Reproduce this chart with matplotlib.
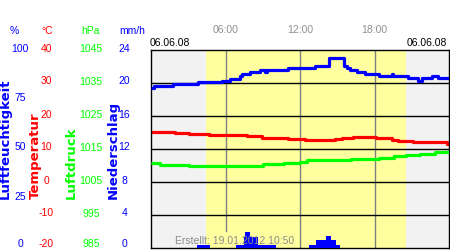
import matplotlib
matplotlib.use("Agg")
import matplotlib.pyplot as plt
from matplotlib import transforms

plt.rcParams['font.family'] = ['Liberation Sans', 'DejaVu Sans']

# Tagesdaten 06.06.08 (Stunden, Werte)
hum_t = [0.0, 0.24, 1.77, 3.78, 5.72, 6.36, 7.17, 7.33, 7.97, 8.78, 9.18, 9.34,
         11.03, 13.2, 14.33, 15.54, 15.78, 16.02, 16.6, 17.2, 18.4, 19.4, 19.5,
         20.7, 21.5, 21.8, 22.6, 23.1, 24.0]
hum_v = [80.6, 81.8, 82.8, 83.8, 84.5, 85.5, 86.7, 87.9, 88.7, 89.7, 88.7, 89.7,
         90.7, 91.9, 96.1, 91.9, 90.7, 90.1, 88.9, 87.7, 86.9, 87.7, 86.9,
         85.7, 84.5, 85.7, 86.9, 85.7, 85.7]

temp_t = [0.0, 1.9, 3.1, 4.7, 7.7, 8.9, 9.4, 11.0, 12.4, 14.8, 15.4, 16.3,
          17.1, 18.1, 19.4, 19.9, 21.1, 23.8, 24.0]
temp_v = [15.2, 14.8, 14.5, 14.2, 13.8, 13.4, 13.2, 12.9, 12.7, 13.0, 13.3, 13.7,
          13.5, 13.2, 12.8, 12.5, 12.1, 11.6, 11.6]

pres_t = [0.0, 0.7, 3.1, 4.3, 8.0, 9.0, 10.7, 12.0, 12.6, 14.7, 16.1, 17.2,
          18.4, 19.6, 20.5, 21.7, 22.9, 24.0]
pres_v = [1010.7, 1010.2, 1010.0, 1009.7, 1010.0, 1010.5, 1010.8, 1011.2, 1011.6,
          1011.8, 1011.9, 1012.1, 1012.4, 1012.8, 1013.1, 1013.5, 1014.2, 1014.2]

rain_t = [0.0, 3.7, 4.75, 6.85, 7.5, 7.6, 8.0, 8.6, 10.05, 12.7, 13.3, 14.1,
          14.5, 14.9, 15.2, 24.0]
rain_v = [0.0, 0.35, 0.0, 0.35, 1.3, 1.9, 1.3, 0.35, 0.0, 0.35, 1.0, 1.45,
          1.0, 0.35, 0.0, 0.0]

sunrise, sunset = 4.43, 20.5
hour_marks = [6, 12, 18]
hour_labels = ['06:00', '12:00', '18:00']

hum_ticks = [0, 25, 50, 75, 100]
temp_ticks = [-20, -10, 0, 10, 20, 30, 40]
pres_ticks = [985, 995, 1005, 1015, 1025, 1035, 1045]
rain_ticks = [0, 4, 8, 12, 16, 20, 24]

W, H = 450, 250
fig = plt.figure(figsize=(W / 100, H / 100), dpi=100)

# Grundachse: Temperatur-Skala mit Hintergrund und Gitter
ax = fig.add_axes([151 / W, 2 / H, 298 / W, 198 / H])
ax.set_xlim(0, 24)
ax.set_ylim(temp_ticks[0], temp_ticks[-1])
ax.set_facecolor('#f2f2f2')
ax.axvspan(sunrise, sunset, color='#ffffa0', lw=0)
ax.axvline(hour_marks[0], ymin=0.085, color='#808080', lw=1)
for h in hour_marks[1:]:
    ax.axvline(h, color='#808080', lw=1)
for t in temp_ticks[1:-1]:
    ax.axhline(t, color='black', lw=1)
ax.set_xticks([])
ax.set_yticks([])
for s in ax.spines.values():
    s.set_color('black')
    s.set_linewidth(1)

ax_p = ax.twinx()
ax_h = ax.twinx()
ax_r = ax.twinx()
for a, ticks in [(ax_p, pres_ticks), (ax_h, hum_ticks), (ax_r, rain_ticks)]:
    a.set_ylim(ticks[0], ticks[-1])
    a.set_yticks([])
    a.patch.set_visible(False)
    for s in a.spines.values():
        s.set_visible(False)

lw = 2.3
ax.plot(temp_t, temp_v, color='#ff0000', lw=lw, drawstyle='steps-post', solid_capstyle='butt')
ax_p.plot(pres_t, pres_v, color='#00ff00', lw=lw, drawstyle='steps-post', solid_capstyle='butt')
ax_h.plot(hum_t, hum_v, color='#0000ff', lw=lw, drawstyle='steps-post', solid_capstyle='butt')
ax_r.fill_between(rain_t, rain_v, step='post', color='#0000ff', lw=0)

# linke Skalen
fs = 7.5
columns = [
    (hum_ticks, ax_h, 20, '#0000ff', '%', 14),
    (temp_ticks, ax, 46.5, '#ff0000', '°C', 47),
    (pres_ticks, ax_p, 91, '#00ff00', 'hPa', 90),
    (rain_ticks, ax_r, 124.5, '#0000ff', 'mm/h', 132.5),
]
for ticks, a, xc, col, unit, ux in columns:
    tr = transforms.blended_transform_factory(fig.transFigure, a.transData)
    for i, v in enumerate(ticks):
        off = 4 if i == 0 else 1.5
        t2 = transforms.offset_copy(tr, fig=fig, y=off, units='dots')
        fig.text(xc / W, v, str(v), transform=t2, ha='center', va='center',
                 fontsize=fs, color=col)
    fig.text(ux / W, 1 - 31 / H, unit, ha='center', va='center', fontsize=fs, color=col)

names = [('Luftfeuchtigkeit', 5.5, '#0000ff'), ('Temperatur', 35.3, '#ff0000'),
         ('Luftdruck', 71, '#00ff00'), ('Niederschlag', 113, '#0000ff')]
for name, xc, col in names:
    fig.text(xc / W, 1 - 199 / H, name, rotation=90, ha='center', va='bottom',
             fontsize=9.5, fontweight='bold', family='DejaVu Sans', color=col)

# obere Beschriftung
trx = transforms.blended_transform_factory(ax.transData, fig.transFigure)
for h, lab in zip(hour_marks, hour_labels):
    fig.text(h, 1 - 30 / H, lab, transform=trx, ha='center', va='center',
             fontsize=fs, color='#909090')
fig.text(150 / W, 1 - 43.5 / H, '06.06.08', ha='left', va='center', fontsize=fs, color='black')
fig.text(447 / W, 1 - 43.5 / H, '06.06.08', ha='right', va='center', fontsize=fs, color='black')

fig.text(175 / W, 1 - 241 / H, 'Erstellt: 19.01.2012 10:50', ha='left', va='center',
         fontsize=fs, color='#8c8c8c')

fig.savefig('out.png', dpi=100)
